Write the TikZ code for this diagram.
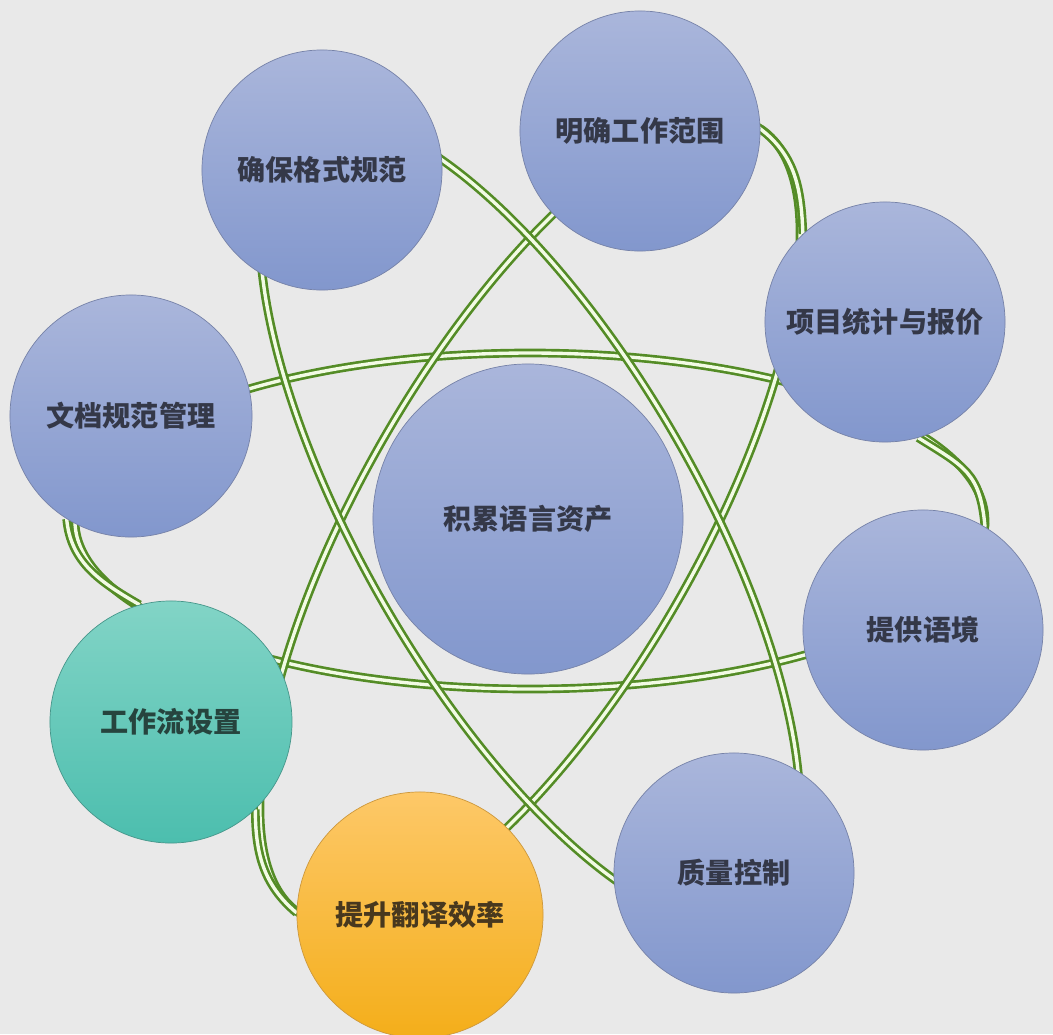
\documentclass[tikz,border=0pt]{standalone}
\usepackage{fontspec}
\newfontfamily\cjk{Noto Sans CJK SC}
\definecolor{bgc}{RGB}{233,233,233}
\definecolor{btop}{RGB}{170,182,219}
\definecolor{bbot}{RGB}{130,151,205}
\definecolor{bedge}{RGB}{118,130,168}
\definecolor{ttop}{RGB}{130,212,198}
\definecolor{tbot}{RGB}{76,190,174}
\definecolor{tedge}{RGB}{70,150,138}
\definecolor{otop}{RGB}{253,200,104}
\definecolor{obot}{RGB}{244,174,26}
\definecolor{oedge}{RGB}{205,152,60}
\definecolor{wg}{RGB}{84,140,38}
\definecolor{wl}{RGB}{242,251,228}
\definecolor{txtb}{RGB}{52,56,72}
\definecolor{txtt}{RGB}{38,68,62}
\definecolor{txto}{RGB}{72,56,30}
\pgfdeclarelayer{bg}
\pgfsetlayers{bg,main}
\begin{document}
\begin{tikzpicture}[x=0.025cm, y=-0.025cm,
  ball/.style={circle, draw=bedge, line width=0.5pt, top color=btop, bottom color=bbot,
    minimum size=6cm, inner sep=0pt, text=txtb,
    font=\cjk\bfseries\fontsize{20}{24}\selectfont},
  tealball/.style={ball, draw=tedge, top color=ttop, bottom color=tbot, text=txtt},
  orangeball/.style={ball, draw=oedge, top color=otop, bottom color=obot, text=txto},
  wire/.style={draw=wg, line width=1.9pt, double=wl, double distance=2.4pt}]
\useasboundingbox (0,0) rectangle (1053,1034);

\node[ball, minimum size=7.75cm] (center) at (528,519) {积累语言资产};
\node[ball] (qbgs) at (322,170) {确保格式规范};
\node[ball] (mqgz) at (640,131) {明确工作范围};
\node[ball] (xmtj) at (885,322) {项目统计与报价};
\node[ball, minimum size=6.05cm] (wdgf) at (131,416) {文档规范管理};
\node[ball] (tgyj) at (923,630) {提供语境};
\node[tealball, minimum size=6.05cm] (gzl) at (171,722) {工作流设置};
\node[orangeball, minimum size=6.15cm] (tsfy) at (420,915) {提升翻译效率};
\node[ball] (zlkz) at (734,873) {质量控制};

\begin{pgfonlayer}{bg}
\fill[bgc] (0,0) rectangle (1053,1034);
\draw[wire] (530,521) ellipse [x radius=455, y radius=168];
\draw[wire, rotate around={60:(530,521)}] (530,521) ellipse [x radius=455, y radius=168];
\draw[wire, rotate around={-60:(530,521)}] (530,521) ellipse [x radius=455, y radius=168];
\draw[wire] (mqgz.1) to[out=-37,in=92] (xmtj.133);
\draw[wire] (xmtj.-74) to[out=-32,in=95,looseness=1.25] (tgyj.59);
\draw[wire] (wdgf.238) to[out=-85,in=150] (gzl.105);
\draw[wire] (gzl.-46) to[out=-90,in=140] (tsfy.179);
\end{pgfonlayer}
\end{tikzpicture}
\end{document}
